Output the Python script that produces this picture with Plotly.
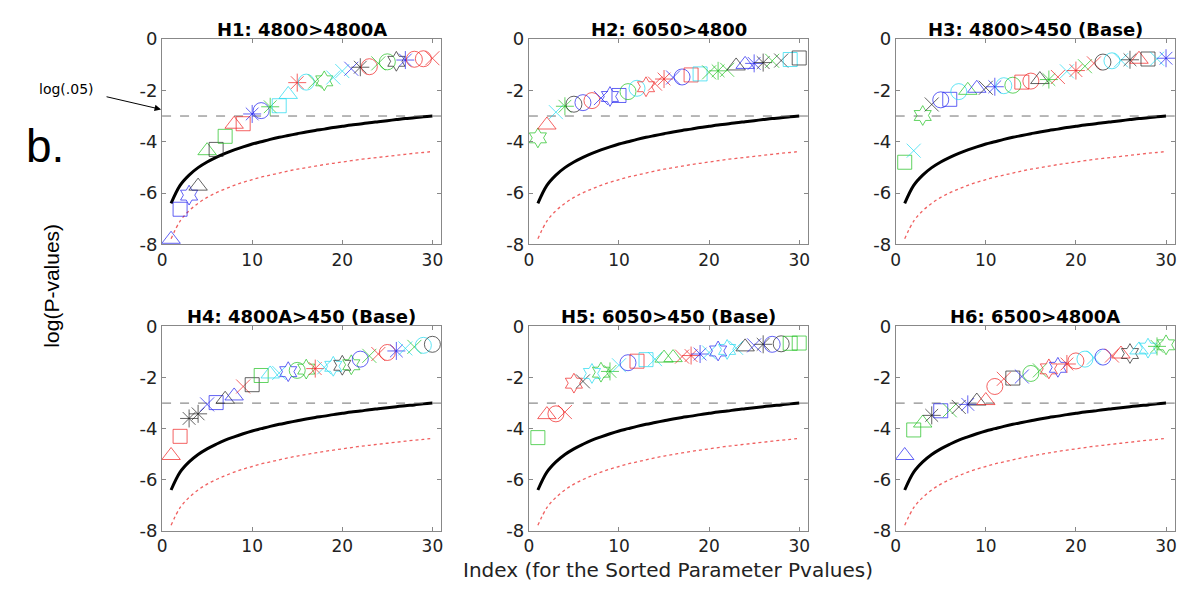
import plotly.graph_objects as go

index = list(range(1, 31))

titles = ["H1: 4800>4800A", "H2: 6050>4800", "H3: 4800>450 (Base)",
          "H4: 4800A>450 (Base)", "H5: 6050>450 (Base)", "H6: 6500>4800A"]

# thresholds
thresh_black = [-6.40, -5.70, -5.30, -5.01, -4.79, -4.61, -4.45, -4.32, -4.20, -4.09,
                -4.00, -3.91, -3.83, -3.76, -3.69, -3.62, -3.56, -3.51, -3.45, -3.40,
                -3.35, -3.31, -3.26, -3.22, -3.18, -3.14, -3.10, -3.07, -3.03, -3.00]
thresh_red = [-7.78, -7.09, -6.69, -6.40, -6.17, -5.99, -5.84, -5.70, -5.58, -5.48,
              -5.38, -5.30, -5.22, -5.14, -5.07, -5.01, -4.95, -4.89, -4.84, -4.79,
              -4.74, -4.69, -4.65, -4.61, -4.57, -4.53, -4.49, -4.45, -4.42, -4.38]
log05 = -3.0

h1_vals = [-7.80, -6.63, -6.08, -5.73, -4.35, -4.30, -3.79, -3.32, -3.30, -2.92,
           -2.79, -2.64, -2.60, -2.16, -1.70, -1.68, -1.66, -1.63, -1.50, -1.25,
           -1.16, -1.10, -1.08, -0.95, -0.89, -0.87, -0.82, -0.79, -0.77, -0.75]
h1_sym = ['^', 's', 'h', '^', '^', 's', 's', '^', 's', '*', 'o', '*', 's', '^', '*',
          'o', 'x', 'h', 'x', 'x', 'x', '*', 'o', 'x', 'o', 'h', '*', 'o', 'o', 'x']
h1_col = ['b', 'b', 'b', 'k', 'g', 'k', 'g', 'r', 'r', 'b', 'b', 'g', 'c', 'c', 'r',
          'c', 'g', 'g', 'c', 'c', 'b', 'k', 'r', 'g', 'g', 'k', 'b', 'r', 'r', 'r']

h2_vals = [-3.85, -3.35, -2.85, -2.62, -2.54, -2.48, -2.40, -2.30, -2.24, -2.20,
           -2.05, -1.92, -1.86, -1.74, -1.56, -1.50, -1.48, -1.40, -1.36, -1.30,
           -1.24, -1.20, -1.05, -0.99, -0.95, -0.92, -0.85, -0.84, -0.80, -0.74]
h2_sym = ['h', '^', 'x', '*', 'o', 'o', 'o', 'x', 'h', 's', 'o', 'o', 'h', 'x', '*',
          'x', 'o', 's', 's', 'x', '*', 'x', '^', '^', '*', '*', 'x', 'x', 's', 's']
h2_col = ['g', 'r', 'c', 'g', 'k', 'b', 'r', 'b', 'b', 'b', 'g', 'c', 'r', 'r', 'r',
          'b', 'b', 'r', 'c', 'g', 'g', 'g', 'k', 'b', 'b', 'k', 'g', 'k', 'c', 'k']

h3_vals = [-4.80, -4.35, -2.98, -2.55, -2.37, -2.35, -2.05, -2.00, -1.92, -1.90,
           -1.86, -1.82, -1.80, -1.68, -1.64, -1.58, -1.58, -1.48, -1.26, -1.23,
           -1.06, -0.95, -0.90, -0.85, -0.83, -0.81, -0.79, -0.78, -0.77, -0.75]
h3_sym = ['s', 'x', 'h', 'x', 'o', 's', 'o', '^', '^', 'x', '*', 'o', 'o', 's', 'o',
          '^', '*', 'x', 'x', '*', 'x', 'x', 'o', 'o', 'x', '*', '^', 's', 'x', '*']
h3_col = ['g', 'c', 'g', 'k', 'b', 'b', 'c', 'g', 'b', 'k', 'b', 'c', 'g', 'r', 'r',
          'k', 'g', 'r', 'c', 'r', 'g', 'r', 'k', 'c', 'c', 'k', 'r', 'k', 'c', 'b']

h4_vals = [-5.05, -4.30, -3.60, -3.42, -3.05, -2.98, -2.85, -2.72, -2.35, -2.28,
           -1.92, -1.86, -1.82, -1.77, -1.72, -1.67, -1.65, -1.60, -1.56, -1.52,
           -1.50, -1.28, -1.15, -1.08, -1.02, -0.96, -0.86, -0.80, -0.74, -0.70]
h4_sym = ['^', 's', '*', '*', 'x', 's', '^', '^', 'x', 's', 's', '^', 'x', 'h', 'o',
          'h', '*', 'x', 'h', 'h', 'h', 'o', 'x', 'x', 'o', '*', 'x', 'x', 'o', 'o']
h4_col = ['r', 'r', 'k', 'k', 'b', 'b', 'k', 'b', 'r', 'k', 'g', 'c', 'c', 'b', 'g',
          'g', 'r', 'c', 'c', 'k', 'g', 'b', 'g', 'r', 'r', 'b', 'c', 'g', 'c', 'k']

h5_vals = [-4.35, -3.45, -3.42, -3.35, -2.22, -2.15, -1.84, -1.79, -1.76, -1.52,
           -1.42, -1.36, -1.30, -1.28, -1.24, -1.22, -1.18, -1.14, -1.08, -1.02,
           -0.96, -0.90, -0.84, -0.80, -0.74, -0.70, -0.70, -0.68, -0.66, -0.65]
h5_sym = ['s', '^', 'o', 'x', 'h', 'x', 'h', 'h', '*', 'x', 'o', 's', 's', 'x', '^',
          '^', 'x', '*', '*', 'x', 'h', 'h', 'x', '^', 'x', '*', 'o', 'o', 's', 's']
h5_col = ['g', 'r', 'r', 'r', 'r', 'k', 'c', 'g', 'g', 'c', 'b', 'r', 'c', 'c', 'g',
          'g', 'r', 'r', 'b', 'c', 'b', 'c', 'c', 'k', 'b', 'k', 'b', 'k', 'g', 'g']

h6_vals = [-5.05, -4.05, -3.78, -3.48, -3.30, -3.28, -3.15, -3.05, -2.92, -2.90,
           -2.35, -2.05, -2.02, -1.96, -1.84, -1.72, -1.66, -1.60, -1.47, -1.35,
           -1.28, -1.22, -1.20, -1.14, -1.08, -1.06, -0.92, -0.85, -0.78, -0.72]
h6_sym = ['^', 's', '^', '*', 's', 'x', 'x', '*', '^', '^', 'o', 'x', 's', 'x', 'o',
          'x', 'h', 'h', '*', 'o', 'o', 'x', 'o', 'x', '^', 'h', '^', 'h', '*', 'h']
h6_col = ['b', 'g', 'g', 'k', 'b', 'g', 'k', 'b', 'k', 'r', 'r', 'r', 'k', 'b', 'g',
          'g', 'r', 'b', 'r', 'r', 'c', 'c', 'b', 'r', 'r', 'k', 'c', 'c', 'g', 'g']

panels = [(h1_vals, h1_sym, h1_col), (h2_vals, h2_sym, h2_col), (h3_vals, h3_sym, h3_col),
          (h4_vals, h4_sym, h4_col), (h5_vals, h5_sym, h5_col), (h6_vals, h6_sym, h6_col)]

SYMBOLS = {'o': 'circle-open', 's': 'square-open', '^': 'triangle-up-open',
           'x': 'x-thin-open', '*': 'asterisk-open', 'h': 'hexagram-open',
           '+': 'cross-thin-open'}
COLORS = {'b': '#2020f0', 'g': '#20c020', 'r': '#f02020', 'c': '#20d8f0', 'k': '#202020'}
SIZES = {'o': 16, 's': 14, '^': 16, 'x': 14, '*': 15, 'h': 15, '+': 14}

W, H = 1182, 593
xdom = [(158, 439), (527, 808), (896, 1177)]
ydom = [(29, 242), (327, 539)]

fig = go.Figure()
font_fam = "DejaVu Sans, Arial, sans-serif"

for k, (vals, syms, cols) in enumerate(panels):
    r, c = divmod(k, 3)
    n = k + 1
    xa = "x" if n == 1 else f"x{n}"
    ya = "y" if n == 1 else f"y{n}"
    xl = "xaxis" if n == 1 else f"xaxis{n}"
    yl = "yaxis" if n == 1 else f"yaxis{n}"
    x0, x1 = xdom[c]
    y0, y1 = ydom[r]
    fig.add_trace(go.Scatter(x=index, y=thresh_red, mode="lines", xaxis=xa, yaxis=ya,
                             line=dict(color="#f06060", width=1.3, dash="dot", shape="spline"),
                             showlegend=False, hoverinfo="skip"))
    fig.add_trace(go.Scatter(x=index, y=thresh_black, mode="lines", xaxis=xa, yaxis=ya,
                             line=dict(color="black", width=3, shape="spline"),
                             showlegend=False, hoverinfo="skip"))
    fig.add_trace(go.Scatter(x=[0, 31], y=[log05, log05], mode="lines", xaxis=xa, yaxis=ya,
                             line=dict(color="#707070", width=1, dash="dash"),
                             showlegend=False, hoverinfo="skip"))
    fig.add_trace(go.Scatter(x=index, y=vals, mode="markers", xaxis=xa, yaxis=ya,
                             marker=dict(symbol=[SYMBOLS[s] for s in syms],
                                         size=[SIZES[s] for s in syms],
                                         color=[COLORS[cc] for cc in cols],
                                         line=dict(width=1, color=[COLORS[cc] for cc in cols])),
                             showlegend=False))
    fig.update_layout(**{
        xl: dict(domain=[x0 / W, x1 / W], range=[0, 31], anchor=ya,
                 tickvals=[0, 10, 20, 30], ticktext=["0", "10", "20", "30"],
                 ticks="inside", ticklen=4, tickcolor="#888", showgrid=False, zeroline=False,
                 showline=True, linecolor="#888", linewidth=1, mirror="ticks",
                 tickfont=dict(family=font_fam, size=17, color="#222")),
        yl: dict(domain=[1 - y1 / H, 1 - y0 / H], range=[-8, 0], anchor=xa,
                 tickvals=[0, -2, -4, -6, -8], ticktext=["0", "-2", "-4", "-6", "-8"],
                 ticks="inside", ticklen=4, tickcolor="#888", showgrid=False, zeroline=False,
                 showline=True, linecolor="#888", linewidth=1, mirror="ticks",
                 tickfont=dict(family=font_fam, size=18, color="#222")),
    })
    fig.add_annotation(x=(x0 + x1) / 2 / W, y=1 - (y0 - 10) / H, xref="paper", yref="paper",
                       xanchor="center", yanchor="middle",
                       text=f"<b>{titles[k]}</b>", showarrow=False,
                       font=dict(family=font_fam, size=18, color="black"))

fig.add_annotation(x=157 / W, y=1 - 102 / H, ax=-56, ay=-13,
                   xref="paper", yref="paper", axref="pixel", ayref="pixel",
                   text="", showarrow=True, arrowhead=2, arrowsize=1.3, arrowwidth=1,
                   arrowcolor="black")
fig.add_annotation(x=62 / W, y=1 - 81 / H, xref="paper", yref="paper", text="log(.05)",
                   xanchor="center", yanchor="middle",
                   showarrow=False, font=dict(family=font_fam, size=14, color="black"))
fig.add_annotation(x=40 / W, y=1 - 140 / H, xref="paper", yref="paper", text="b.",
                   xanchor="center", yanchor="middle",
                   showarrow=False, font=dict(family="Liberation Sans, Arial", size=46, color="black"))
fig.add_annotation(x=47 / W, y=1 - 285 / H, xref="paper", yref="paper", text="log(P-values)",
                   xanchor="center", yanchor="middle",
                   textangle=-90, showarrow=False,
                   font=dict(family="Liberation Sans, Arial", size=21, color="black"))
fig.add_annotation(x=667 / W, y=1 - 580 / H, xref="paper", yref="paper",
                   xanchor="center", yanchor="middle",
                   text="Index (for the Sorted Parameter Pvalues)", showarrow=False,
                   font=dict(family=font_fam, size=20, color="#222"))

fig.update_layout(width=W, height=H, margin=dict(l=0, r=0, t=0, b=0),
                  paper_bgcolor="white", plot_bgcolor="white")
fig.write_html("out.html", config={"displayModeBar": False},
               post_script="document.body.style.margin='0';document.body.style.overflow='hidden';")
